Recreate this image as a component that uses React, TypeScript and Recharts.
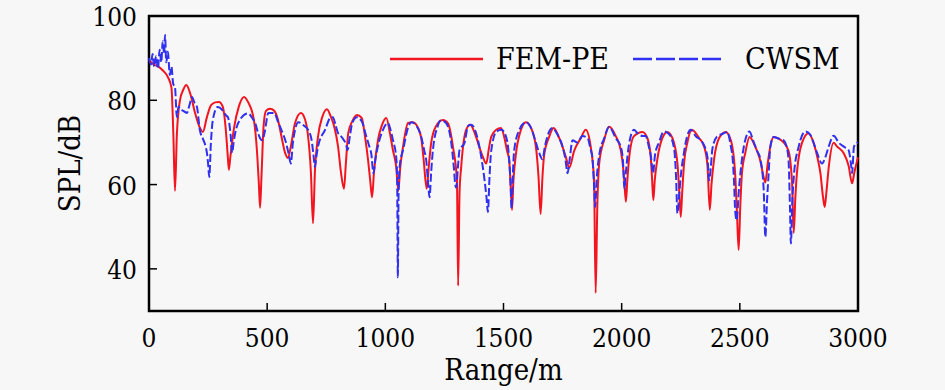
import { LineChart, Line, XAxis, YAxis, Label, ReferenceArea } from "recharts";

// FEM-PE (solid red)
const femRange = [
  0, 20, 40, 60, 80, 95, 103, 110, 118, 131, 145, 158, 175, 195, 215, 228, 245, 262, 280, 296,
  312, 325, 333, 338, 345, 360, 380, 402, 420, 444, 458, 465, 470, 476, 485, 495, 512, 530, 545, 562,
  575, 588, 600, 618, 643, 660, 672, 685, 694, 702, 715, 733, 753, 770, 785, 800, 812, 825, 833, 843,
  860, 880, 900, 915, 927, 936, 944, 952, 969, 985, 1004, 1020, 1032, 1046, 1055, 1063, 1075, 1096, 1117, 1138,
  1152, 1162, 1175, 1185, 1194, 1215, 1244, 1265, 1286, 1303, 1308, 1314, 1321, 1342, 1359, 1384, 1400, 1413, 1427, 1438,
  1448, 1469, 1489, 1503, 1515, 1524, 1530, 1536, 1542, 1552, 1574, 1595, 1616, 1637, 1648, 1657, 1665, 1672, 1693, 1712,
  1736, 1764, 1778, 1799, 1827, 1848, 1869, 1883, 1890, 1897, 1905, 1926, 1947, 1975, 1996, 2006, 2012, 2018, 2024, 2031,
  2052, 2088, 2109, 2123, 2128, 2134, 2140, 2151, 2172, 2193, 2215, 2236, 2244, 2250, 2256, 2264, 2278, 2297, 2328, 2349,
  2363, 2373, 2380, 2391, 2412, 2440, 2462, 2480, 2488, 2495, 2502, 2509, 2523, 2541, 2565, 2585, 2600, 2608, 2618, 2629,
  2643, 2660, 2685, 2706, 2721, 2728, 2735, 2742, 2763, 2791, 2812, 2830, 2841, 2852, 2859, 2866, 2876, 2897, 2912, 2939,
  2960, 2975, 2985, 3000,
];
const femSpl = [
  89.5, 88.5, 88, 87, 85.5, 83, 72, 58.5, 72, 80, 82.5, 83.6, 81.5, 77, 73.5, 72.5, 76, 78.8, 79.5, 79.6,
  78.5, 73, 67, 63.5, 67, 73.5, 78.5, 80.8, 79.5, 75.3, 67, 60, 54.5, 62, 74, 77.5, 78, 77.5, 75.5, 71,
  67.7, 66.3, 69, 74.6, 77, 75.5, 72, 63, 50.8, 63, 71.3, 76, 77.9, 76, 73.5, 69, 63, 59, 65, 72.2,
  75, 76.5, 75.8, 71, 65.8, 61, 57, 63, 70.6, 74, 75.8, 72, 68.2, 64.2, 58.5, 64, 69, 74.6, 74.8, 73.5,
  71, 66, 59, 65, 69.9, 73.9, 75.3, 74.5, 69, 61, 36, 58, 64.2, 73, 74.2, 71.3, 68.5, 66.5, 65, 68.5,
  71.3, 73, 73.4, 71.3, 68, 65.8, 60, 54, 61, 67, 73, 74.8, 73.5, 69, 62, 53, 62, 67, 71.3, 73.4,
  71, 66.5, 64, 68, 71, 73, 69, 61, 34.3, 55, 65, 70.6, 73.7, 71.5, 68.2, 64.2, 60, 55.9, 61, 66,
  71.5, 72.5, 71, 66.5, 62, 56.3, 61, 66, 71, 72.5, 71, 65, 58, 52.3, 58, 65, 70, 73, 71, 69,
  64.5, 54, 60, 66, 71, 72.5, 70.5, 62.7, 53, 44.5, 55, 62.7, 67.5, 71.3, 69, 66, 62, 60.5, 65, 69,
  71.3, 71, 70, 68, 60.4, 48.5, 57, 63, 69.9, 72.2, 69.9, 66, 62.7, 57, 54.7, 58, 64, 69.9, 69, 67.5,
  64.5, 60.3, 63, 66.5,
];

// CWSM (dashed blue)
const cwsmRange = [
  0, 8, 15, 22, 30, 38, 45, 52, 58, 64, 68, 73, 80, 88, 95, 102, 110, 118, 125, 131,
  145, 160, 172, 182, 192, 203, 215, 230, 240, 245, 250, 255, 262, 270, 290, 313, 325, 335, 345, 352,
  358, 364, 390, 418, 440, 450, 460, 470, 480, 490, 505, 530, 545, 560, 580, 592, 600, 609, 618, 632,
  655, 673, 688, 696, 702, 708, 715, 745, 770, 778, 790, 800, 812, 824, 834, 840, 850, 860, 880, 900,
  920, 935, 940, 950, 958, 969, 990, 1011, 1022, 1032, 1046, 1050, 1053, 1056, 1062, 1075, 1096, 1110, 1131, 1152,
  1165, 1173, 1180, 1187, 1194, 1201, 1222, 1236, 1258, 1279, 1290, 1296, 1300, 1307, 1314, 1335, 1350, 1364, 1385, 1406,
  1420, 1428, 1434, 1441, 1448, 1469, 1491, 1510, 1524, 1530, 1534, 1540, 1545, 1567, 1595, 1616, 1637, 1651, 1665, 1675,
  1686, 1707, 1729, 1750, 1762, 1771, 1780, 1792, 1813, 1834, 1856, 1868, 1876, 1883, 1888, 1894, 1905, 1926, 1947, 1975,
  1996, 2005, 2012, 2018, 2031, 2052, 2070, 2090, 2102, 2115, 2123, 2133, 2141, 2158, 2179, 2200, 2222, 2230, 2236, 2244,
  2250, 2262, 2271, 2292, 2313, 2342, 2363, 2370, 2377, 2384, 2405, 2426, 2447, 2462, 2469, 2476, 2480, 2487, 2495, 2509,
  2523, 2541, 2556, 2573, 2587, 2601, 2608, 2615, 2622, 2629, 2643, 2660, 2685, 2700, 2706, 2712, 2716, 2722, 2730, 2749,
  2777, 2798, 2815, 2827, 2848, 2862, 2876, 2897, 2919, 2940, 2960, 2970, 2975, 2983, 3000,
];
const cwsmSpl = [
  90, 88.5, 91, 88, 90.5, 87.5, 92, 89, 94, 91, 95.5, 89, 91.5, 86, 88, 84, 83, 76, 78.5, 78,
  77.5, 77, 79, 80.8, 79.5, 78.4, 73, 70.6, 69, 67.5, 65, 61.8, 70, 75.3, 78.4, 77.5, 76.5, 75.8, 72, 67.5,
  70, 72, 75.8, 76.9, 75.5, 74.5, 72.5, 71, 70.5, 72.6, 77, 77, 75, 73, 69.9, 67, 65, 70, 73, 74.8,
  74, 73, 70.6, 67, 64.2, 66.5, 69, 73, 76, 76, 74, 72.2, 71.5, 70.6, 69.5, 68.2, 71.5, 74.6, 76, 75,
  71.3, 68.5, 67.5, 62.7, 66, 69.2, 73, 74.6, 73, 70.6, 66.5, 61, 38, 58, 65, 68.2, 73.5, 74.8, 74, 71.3,
  68, 65.8, 61, 57, 63, 68, 73.9, 75.3, 74.5, 69.9, 64, 60, 59.3, 64, 68.2, 69.9, 73.9, 74.2, 72, 66.5,
  61, 57, 53.5, 62, 68, 72.5, 73, 71.5, 66, 60, 54.4, 63, 68, 73, 74.8, 73.5, 70, 67.5, 66, 69,
  71.5, 73.4, 71.8, 69, 66, 62.7, 66, 70.5, 70, 71.5, 71, 68.5, 66.5, 60, 54.7, 61, 67, 71, 73.7, 71,
  69, 66, 59, 63, 69.5, 73, 72, 71.5, 71.5, 69, 67, 62.7, 67, 70, 72.6, 72, 68.5, 62, 53.2, 58,
  62, 67, 70, 73, 71.5, 70, 66.5, 61, 64, 68.5, 71.5, 72, 72.5, 69, 66.5, 60, 54, 51.5, 58, 66,
  70.6, 72.6, 70.5, 68, 66, 58.7, 47.6, 56, 62.7, 69, 71.3, 71, 70.5, 68.5, 66, 55, 46, 56, 63, 69,
  72.6, 71.8, 69.5, 67.5, 65, 66.5, 69, 71.6, 69.9, 69, 68.2, 65, 62.7, 69, 70,
];

const xTicks = [0, 500, 1000, 1500, 2000, 2500, 3000];
const yTicks = [40, 60, 80, 100];

const femData = femRange.map((r, i) => ({ range: r, spl: femSpl[i] }));
const cwsmData = cwsmRange.map((r, i) => ({ range: r, spl: cwsmSpl[i] }));

const FONT = "DejaVu Serif Condensed, DejaVu Serif";
const FS = 26;
const RED = "#f2151f";
const BLUE = "#3030f0";
const BG = "#f7f7f7";

function BottomTick({ x, y, payload }: any) {
  return (
    <g>
      <line x1={x} x2={x} y1={y} y2={y - 8} stroke="#000" strokeWidth={1.5} />
      <text x={x} y={y + 36} textAnchor="middle" fontFamily={FONT} fontSize={FS} fill="#000">
        {payload.value}
      </text>
    </g>
  );
}

function LeftTick({ x, y, payload }: any) {
  return (
    <g>
      <line x1={x} x2={x + 8} y1={y} y2={y} stroke="#000" strokeWidth={1.5} />
      <text x={x - 12} y={y + 10} textAnchor="end" fontFamily={FONT} fontSize={FS} fill="#000">
        {payload.value}
      </text>
    </g>
  );
}

const legendText: React.CSSProperties = {
  position: "absolute",
  fontFamily: FONT,
  fontSize: 30,
  lineHeight: "30px",
  color: "#000",
  top: 44,
};

export default function App() {
  return (
    <div style={{ position: "relative", width: 945, height: 390, background: BG }}>
      <style>{`body{margin:0;background:${BG}}`}</style>
      <LineChart
        width={945}
        height={390}
        margin={{ top: 16, right: 87, left: 89, bottom: 39 }}
      >
        <XAxis
          type="number"
          dataKey="range"
          domain={[0, 3000]}
          ticks={xTicks}
          allowDuplicatedCategory={false}
          height={40}
          axisLine={false}
          tickLine={false}
          tickSize={0}
          tickMargin={0}
          tick={<BottomTick />}
        >
          <Label
            content={({ viewBox }: any) => (
              <text
                x={viewBox.x + viewBox.width / 2}
                y={viewBox.y + 69}
                textAnchor="middle"
                fontFamily={FONT}
                fontSize={29}
                fill="#000"
              >
                Range/m
              </text>
            )}
          />
        </XAxis>
        <YAxis
          type="number"
          domain={[30, 100]}
          ticks={yTicks}
          width={60}
          axisLine={false}
          tickLine={false}
          tickSize={0}
          tickMargin={0}
          tick={<LeftTick />}
        >
          <Label
            content={({ viewBox }: any) => {
              const cx = viewBox.x - 9;
              const cy = viewBox.y + viewBox.height / 2;
              return (
                <text
                  x={cx}
                  y={cy}
                  transform={`rotate(-90 ${cx} ${cy})`}
                  textAnchor="middle"
                  fontFamily={FONT}
                  fontSize={29}
                  fill="#000"
                >
                  SPL/dB
                </text>
              );
            }}
          />
        </YAxis>
        <Line
          data={femData}
          dataKey="spl"
          type="monotone"
          stroke={RED}
          strokeWidth={2}
          dot={false}
          activeDot={false}
          isAnimationActive={false}
        />
        <Line
          data={cwsmData}
          dataKey="spl"
          type="monotone"
          stroke={BLUE}
          strokeWidth={2}
          strokeDasharray="8 3"
          dot={false}
          activeDot={false}
          isAnimationActive={false}
        />
        <ReferenceArea
          x1={0}
          x2={3000}
          y1={30}
          y2={100}
          fill="none"
          stroke="#000"
          strokeWidth={2.5}
          ifOverflow="visible"
        />
      </LineChart>

      <svg style={{ position: "absolute", left: 388, top: 54 }} width={97} height={10}>
        <line x1={2} x2={95} y1={5} y2={5} stroke={RED} strokeWidth={2.5} />
      </svg>
      <div style={{ ...legendText, left: 496 }}>FEM-PE</div>
      <svg style={{ position: "absolute", left: 631, top: 54 }} width={95} height={10}>
        <line x1={2} x2={93} y1={5} y2={5} stroke={BLUE} strokeWidth={2.5} strokeDasharray="19 4" />
      </svg>
      <div style={{ ...legendText, left: 745 }}>CWSM</div>
    </div>
  );
}
